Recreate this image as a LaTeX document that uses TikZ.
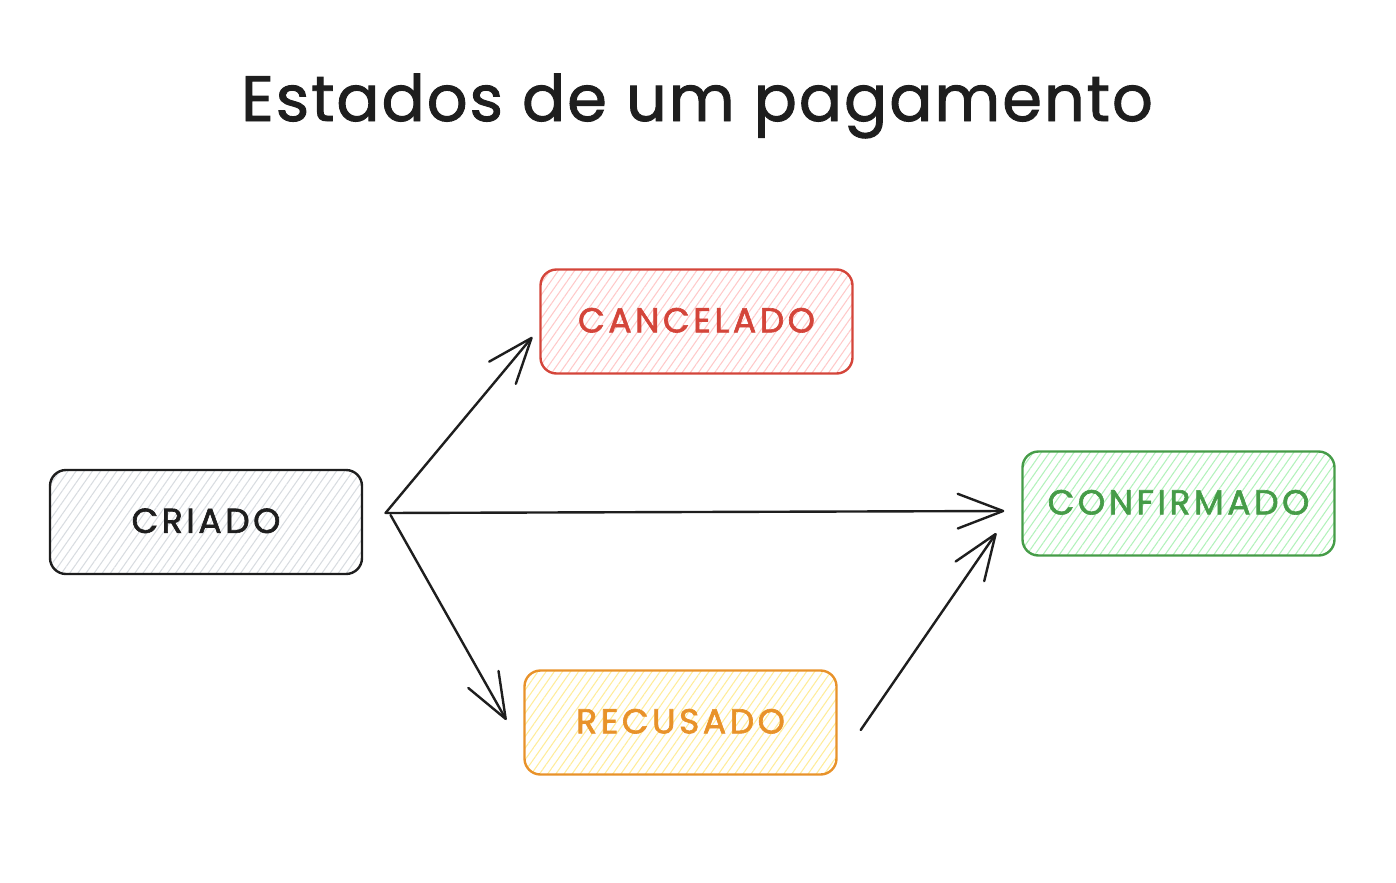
\documentclass[tikz,border=0pt]{standalone}
\usepackage{fontspec}
\setmainfont{Poppins}
\newfontfamily\labelfont{Poppins}[FakeBold=1.8,LetterSpace=10]
\newfontfamily\titlefont{Poppins}[FakeBold=1.5,LetterSpace=3]
\usetikzlibrary{arrows.meta,patterns.meta}
\definecolor{ink}{HTML}{1E1E1E}
\definecolor{redS}{HTML}{D4453A}
\definecolor{redF}{HTML}{FFC9C9}
\definecolor{greenS}{HTML}{469C48}
\definecolor{greenF}{HTML}{B2F2BB}
\definecolor{orangeS}{HTML}{E8922A}
\definecolor{orangeF}{HTML}{FFEC99}
\definecolor{grayF}{HTML}{D8DCE0}
\tikzset{
  statebox/.style={rounded corners=12pt, line width=1.8pt, minimum width=234pt, minimum height=78pt,
    inner sep=0pt, font=\labelfont\fontsize{26}{30}\selectfont},
  hatch/.style={pattern={Lines[angle=55,distance=5pt,line width=0.8pt]}, pattern color=#1},
  arr/.style={draw=ink, line width=1.8pt, line cap=round, -{Straight Barb[length=34pt,width=26pt,round]}}
}
\begin{document}
\begin{tikzpicture}[x=0.75pt,y=-0.75pt]
\useasboundingbox (0,0) rectangle (1396,882);
\node[anchor=base, font=\titlefont\fontsize{48}{56}\selectfont, text=ink] (title) at (697,121) {Estados de um pagamento};

\node[statebox, draw=ink, hatch=grayF, text=ink] (criado) at (206,522) {\raisebox{2pt}{CRIADO}};
\node[statebox, draw=redS, hatch=redF, text=redS] (cancelado) at (696.5,321.5) {\raisebox{2pt}{CANCELADO}};
\node[statebox, draw=greenS, hatch=greenF, text=greenS] (confirmado) at (1178.5,503.5) {\raisebox{2pt}{CONFIRMADO}};
\node[statebox, draw=orangeS, hatch=orangeF, text=orangeS] (recusado) at (680.5,722.5) {\raisebox{2pt}{RECUSADO}};

\coordinate (src) at ([shift={(23,-9)}]criado.east);
\coordinate (src2) at ([shift={(28,-7)}]criado.east);
\coordinate (e1) at ([shift={(-7,15.5)}]cancelado.west);
\coordinate (e2) at ([shift={(-17,7.5)}]confirmado.west);
\coordinate (e3) at ([shift={(-17,-2.5)}]recusado.west);
\coordinate (s4) at ([shift={(23,7.5)}]recusado.east);
\coordinate (e4) at ([shift={(-25,29.5)}]confirmado.west);

\draw[arr] (src) -- (e1);
\draw[arr] (src) -- (e2);
\draw[arr] (src2) -- (e3);
\draw[arr] (s4) -- (e4);
\end{tikzpicture}
\end{document}
